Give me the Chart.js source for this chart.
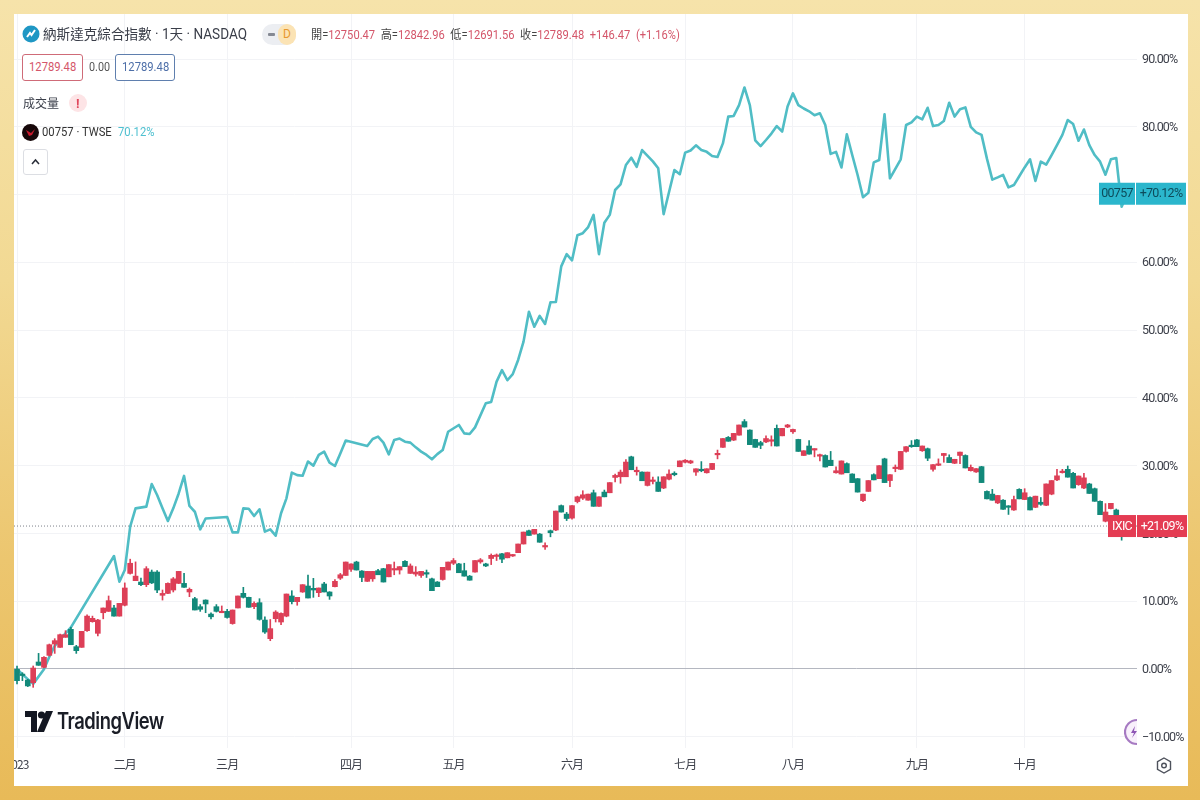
<!DOCTYPE html>
<html lang="zh-Hant">
<head>
<meta charset="utf-8">
<title>納斯達克綜合指數</title>
<script src="https://cdn.jsdelivr.net/npm/chart.js@4"></script>
<style>
html,body{margin:0;padding:0;width:1200px;height:800px;overflow:hidden}
html{background:#e8ba58}
#all{position:absolute;left:0;top:0;width:1200px;height:800px;filter:blur(.35px);background:linear-gradient(180deg,#f6e3aa 0%,#f2d993 35%,#ecc66f 70%,#e8ba58 100%);font-family:Roboto,"Noto Sans CJK TC","Noto Sans",sans-serif}
#panel{position:absolute;left:14px;top:14px;width:1174px;height:772px;background:#fff;overflow:hidden}
#c{position:absolute;left:0;top:0}
.t{position:absolute;white-space:nowrap;line-height:1;color:#2a2e39;transform-origin:left center}
.r{color:#d4566a}
.box{position:absolute;border-radius:3px;background:#fff;box-sizing:border-box}
svg{position:absolute}
</style>
</head>
<body>
<div id="all">
<div id="panel"><canvas id="c" width="1174" height="772"></canvas></div>

<div class="t" style="left:43px;top:27px;font-size:14px;color:#3a3e49;transform:scaleX(.97)">納斯達克綜合指數 · 1天 · NASDAQ</div>
<svg style="left:22px;top:25px" width="18" height="18" viewBox="0 0 18 18"><circle cx="9" cy="9" r="8.5" fill="#1f97c4"/><path d="M5 12 L8 8 L9.5 10 L13 5" stroke="#fff" stroke-width="2" fill="none"/></svg>
<div class="box" style="left:262px;top:24px;width:34px;height:21px;border-radius:11px;background:#eceef2"></div>
<div class="box" style="left:268px;top:33px;width:7px;height:3px;background:#858993;border-radius:1px"></div>
<div class="box" style="left:278px;top:24px;width:18px;height:21px;border-radius:10px;background:#fbe3b4"></div>
<div class="t" style="left:283px;top:28px;font-size:12px;color:#e8982e">D</div>
<div class="t" id="ohlc" style="left:311px;top:29px;font-size:12px;color:#444;transform:scaleX(.93)"><span>開=</span><span class="r">12750.47</span>&nbsp; <span>高=</span><span class="r">12842.96</span>&nbsp; <span>低=</span><span class="r">12691.56</span>&nbsp; <span>收=</span><span class="r">12789.48</span>&nbsp; <span class="r">+146.47</span>&nbsp; <span class="r">(+1.16%)</span></div>

<div class="box" style="left:22px;top:54px;width:61px;height:27px;border:1px solid #cf6b78"></div>
<div class="t r" style="left:29px;top:61px;font-size:12.5px;transform:scaleX(.9)">12789.48</div>
<div class="t" style="left:89px;top:61px;font-size:12px;color:#555;transform:scaleX(.9)">0.00</div>
<div class="box" style="left:115px;top:54px;width:60px;height:27px;border:1px solid #5f7fae"></div>
<div class="t" style="left:122px;top:61px;font-size:12.5px;color:#4e6fa8;transform:scaleX(.9)">12789.48</div>

<div class="t" style="left:23px;top:98px;font-size:12px;color:#3a3e49">成交量</div>
<div class="box" style="left:69px;top:94px;width:18px;height:18px;border-radius:9px;background:#fde4e6"></div>
<div class="t" style="left:76px;top:97px;font-size:13px;font-weight:700;color:#e0475c">!</div>

<svg style="left:22px;top:124px" width="17" height="17" viewBox="0 0 17 17"><circle cx="8.5" cy="8.5" r="8.5" fill="#17080a"/><path d="M4 6 L9 9 L13 5 L10 11 L7 12 Z" fill="#c8182c"/></svg>
<div class="t" style="left:42px;top:126px;font-size:12.5px;color:#333;transform:scaleX(.9)">00757 · TWSE</div>
<div class="t" style="left:118px;top:126px;font-size:12.5px;color:#4fc0d0;transform:scaleX(.9)">70.12%</div>
<div class="box" style="left:23px;top:149px;width:25px;height:26px;border:1px solid #dcdee3"></div>
<svg style="left:30px;top:158px" width="11" height="8" viewBox="0 0 11 8"><path d="M2 6 L5.5 2 L9 6" stroke="#2a2e39" stroke-width="1.5" fill="none"/></svg>

<svg style="left:25px;top:711px" width="28" height="21" viewBox="0 0 28 21"><path d="M0 0H12V21H6V6H0Z" fill="#131722"/><circle cx="16.5" cy="4" r="3.6" fill="#131722"/><path d="M21 0H28L19 21H12Z" fill="#131722"/></svg>
<div class="t" style="left:57px;top:710px;font-size:23px;font-weight:600;font-family:Inter,Roboto,sans-serif;color:#1a1d26;letter-spacing:-.6px;transform:scaleX(.8)" id="tv">TradingView</div>

<svg style="left:1124px;top:718px" width="14" height="28" viewBox="0 0 14 28"><path d="M13 2 A12 12 0 0 0 13 26" stroke="#a67ac2" stroke-width="2.2" fill="#f8f0fb"/><path d="M11 8 L7 15 H10 L8 20 L13 13 H10 Z" fill="#8e55b5"/></svg>
<svg style="left:1156px;top:757px" width="16" height="17" viewBox="0 0 16 17"><path d="M8 1 L14.5 4.7 V12.3 L8 16 L1.5 12.3 V4.7 Z" stroke="#4e525c" stroke-width="1.4" fill="none"/><circle cx="8" cy="8.5" r="2.3" stroke="#4e525c" stroke-width="1.4" fill="none"/></svg>
</div>

<script>
// --- Data (percent change since the first session) ---
const candleOpen = [-0.05,-0.75,-1.63,-2.02,1.03,0.24,2.01,3.68,3.19,4.67,5.85,3.29,3.19,5.65,6.98,5.26,8.3,8.5,9,7.8,9.4,14.1,13.03,12.83,12.44,14.3,14.3,10.87,11.15,11.65,12.63,12.63,11.36,10.37,9.19,10.17,8.1,9.19,8.3,8.5,6.7,9,11.16,10.57,9.19,9.78,7.22,4.47,7.42,6.93,7.8,10.77,9.93,11.36,12.24,11.9,11.26,12.54,11.36,12.14,13.4,13.8,14.7,15.78,14.45,12.93,13.3,14.5,14.8,13.6,14.6,14.6,15.88,14.1,14,13.8,14.2,13.3,12.83,13.2,14.6,15.6,15.5,14.5,13.7,14.3,15.8,15.5,16.3,16.6,17,16.4,16.67,17.16,18.44,20.4,19.9,19.9,18,20.4,20.5,24.1,22.85,22.26,24.7,25.2,24.9,26,24,26.1,26,28.26,28.36,28.36,31.3,29.1,29.05,27.08,27.67,27.58,26.7,28,28.86,29.84,30.5,30.4,29.05,29.44,28.95,29.44,31.6,32.7,34.17,33.77,34.5,36.5,35.25,33.87,33.4,33.5,33.6,35.5,34.4,35.7,35,33.87,31.5,32.9,32.3,31.4,31.5,30.8,28.95,28.76,30.3,28.77,28.08,24.84,26.2,28.67,28.08,31,27.8,29.56,29.46,32.1,33,33.8,32.2,32.5,29.46,30.05,31.5,31.2,30.35,31.5,31.5,29.26,29.07,29.85,26.2,25.8,24.5,24.9,24.05,23.46,26.5,25,25.3,23.85,24.6,24.15,25.8,27.9,28.97,29.46,28.87,27.2,26.7,27.3,26.6,24.74,21.8,23.66,23.46,21.8,20.3];
const candleHigh = [0.44,-0.55,-1.53,0.44,2.3,1.82,3.68,4.47,5.16,5.65,6.14,3.49,5.55,8,7.8,7.32,9,10.77,9.4,9.68,12.7,16.2,15.8,13.4,15.1,14.6,14.5,11.65,12.7,13.5,14.4,14.1,11.95,10.57,9.5,10.2,8.3,9.5,9.3,8.8,8.7,10.77,12.05,10.6,9.9,10.37,7.7,7.3,8.6,8.3,11.06,11.55,10.57,12.44,13.86,13.37,11.95,12.8,11.4,13.2,14.1,15.78,15.5,15.9,14.5,14.4,14.4,14.7,14.85,15.4,15.78,15.1,16,15.5,15.1,14.4,14.6,13.4,12.9,15,15.78,16.3,15.6,15.6,13.8,16,16.3,15.6,16.97,16.97,17.07,17.16,16.9,18.44,20.2,20.5,20.6,20,18.6,20.5,23.3,24.2,23.1,24.1,25.5,26.3,25.8,26.4,25.4,26.4,27.5,28.76,29.35,30.9,31.4,29.8,29.1,29.05,28.3,28.36,28.36,29.4,29.1,30.7,30.9,30.8,29.54,30.6,29.54,30.33,32.3,34,34.3,34.76,36,36.8,35.3,33.9,33.6,34.4,34.4,36,35.5,36.1,35.4,33.9,32.2,33.7,32.5,31.7,31.6,32.1,29.84,30.7,30.4,28.8,28.1,25.8,27.8,28.8,30,31.1,28.67,30.1,32.1,32.8,33.7,33.9,32.9,32.6,30.15,31,31.8,31.6,30.94,32,31.6,30.1,29.56,29.9,26.3,26.5,25.6,25,24.1,25.5,26.6,26.6,25.4,25.5,25.3,27.3,27.8,29.46,29.46,29.95,29,28.47,28.87,27.4,26.7,24.8,24.4,24.44,23.6,22,21.3];
const candleLow = [-2.22,-1.73,-2.6,-2.71,0.54,0.14,1.91,2.3,3.19,4.67,3.58,2.3,3.19,5.55,6.9,4.86,7.4,8.5,7.8,7.8,9.3,14,13.03,12.3,12.15,12.6,11.26,10.17,11.1,11.36,12.6,12.05,10.67,8.7,8.5,8.3,7.4,8.4,8.3,7.5,6.6,9,10.47,9.1,8.9,7.2,5.26,4.17,6.93,6.54,7.7,9.6,9.4,11.3,10.47,10.57,10.67,11.36,10.27,12.1,13.2,13.8,14.4,14.6,12.9,12.9,12.93,13.9,12.83,13.6,13.9,14,15.1,14.1,13.7,13.5,13.5,11.55,12.14,13.1,14.6,15.4,14.2,13.7,13.1,14.3,15.6,15.1,15.4,16,15.7,16.4,16.6,17.16,18.44,19.7,19.9,18.7,17.65,19.5,20.4,23.15,21.9,22.1,24.5,25,24.9,24,24,25.4,26,27.6,27.4,28.36,29.4,28.6,27.77,27,27.3,26.2,26.6,27.9,28.5,29.84,30.4,30.3,28.56,29.1,28.9,29.4,31,32.7,33.6,33.7,34.5,35.7,33.1,32.7,32.5,33.4,32.9,32.9,34.4,35.6,34.76,32.1,31.5,31.7,31.3,30.7,29.8,30,28.9,28.76,28.95,27.5,26.1,24.7,26.2,27.9,28.08,27.5,26.9,29.1,29.4,32,32.7,32.8,32.1,30.74,29.2,30,30.5,30.45,30.3,30.3,29.66,29.2,29,27.5,25.1,24.9,24.4,23.56,22.8,23.4,25.1,25,23.46,23.8,24.15,24.1,25.7,27.8,28.9,28.3,26.7,27.1,26.6,25.9,24.74,22.77,21.7,23.6,22,19,20];
const candleClose = [-1.73,-0.95,-2.5,0.14,0.54,1.72,3.58,4.18,5.06,5.06,3.58,2.7,5.55,7.8,7.47,7.22,9,10.08,7.8,9.68,11.95,15.6,13.7,12.44,14.8,12.7,11.65,11.15,12.63,13.3,14.4,12.05,11.75,8.7,8.8,9.59,7.7,8.5,8.5,7.6,8.7,10.77,10.57,9.1,9.68,7.32,5.45,5.95,8.4,8.2,11.06,9.93,10.57,12.44,10.47,11.65,11.95,11.36,10.77,12.93,13.9,15.78,15.5,14.6,13.5,14.4,14.4,13.9,12.83,15.4,14.8,15.1,15.1,15.2,14.3,14.4,14,11.55,12.14,15,15.78,16,14.2,13.7,13.1,16,16.1,15.2,16.77,16.77,16.2,17.16,16.87,18.44,20.2,19.7,20.6,18.7,18.2,20.1,23.3,23.15,22.2,24.1,25.4,25.7,25.8,24,25.4,25.4,27.5,28.56,29.05,30.53,29.4,29.3,27.77,29.05,27.77,26.2,28.36,28.76,28.66,30.7,30.8,30.7,29.54,29.25,29.54,30.33,31.8,34,33.6,34.76,36,35.7,33.1,32.7,33,34,33.77,32.9,35.5,36,35.35,32.1,32.2,31.7,32.4,31.6,29.8,30,29.25,30.7,28.95,27.5,26.1,25.8,27.8,27.9,30,27.5,28.67,29.66,32.1,32.8,32.8,32.8,32.9,31.1,30.15,30.25,31.8,30.45,30.94,32,29.66,29.75,29.56,27.5,25.1,24.9,25.6,23.56,23.85,25,25.1,26,23.46,25.5,24.3,27.3,27.8,28.5,29.16,28.3,26.7,28.47,28.2,25.9,24.74,22.77,23.16,24.44,22,19.8,21.09];
const lineSession = [0,1,3,5,6,7,9,10,18,19,20,21,22,24,25,26,27,28,29,30,31,32,33,34,35,39,40,41,42,43,44,45,46,47,48,49,50,51,52,53,54,55,56,57,58,59,60,61,65,66,67,68,69,70,71,72,73,74,75,76,77,78,79,80,82,83,84,85,87,88,89,90,91,92,93,94,95,96,97,98,99,100,101,102,103,104,105,106,107,108,109,110,111,112,113,114,115,116,118,119,120,122,123,124,125,126,127,128,129,130,131,132,133,134,135,136,137,138,139,140,141,142,143,144,145,146,147,148,149,150,151,152,153,154,155,156,157,158,159,160,161,162,163,164,165,166,167,168,169,170,171,172,173,174,175,176,177,178,179,180,181,182,183,184,185,186,187,188,189,190,191,192,193,194,195,196,197,198,199,200,201,202,203,204,205,206];
const lineValues = [0,-0.8,-2.2,-0.05,1.8,3.4,5.26,6.14,16.67,12.88,14.6,21,23.7,23.95,27.3,25.67,23.7,21.84,23.7,25.9,28.48,24.05,23.2,20.6,22.2,22.43,20.16,20.16,23.7,23.65,22.57,23.56,20.26,20.6,19.67,22.97,25.18,28.97,28.6,28.5,30.6,30,31.58,32.07,30.44,29.95,31.8,33.7,32.9,33.94,34.28,33.4,31.67,33.79,34,33.54,33.4,32.7,32.07,31.58,30.94,31.7,32.3,35,36,34.76,34.67,35.65,39.2,39.4,42.4,44.1,42.6,43.5,45.6,48.3,52.7,50.5,52.1,50.9,54.1,54.15,59.4,61.2,60.3,64,64.3,65.2,67,61.2,65.85,67,70.67,71.5,74.36,75.44,74.1,76.57,74.9,73.87,67.1,73.62,73,76.18,76.5,77.26,76.57,76.3,75.7,75.54,77.55,81.5,81.6,83.2,85.8,83.2,78,77.16,78.05,79,80.1,79.3,83,84.93,83.2,82.7,82.28,81.7,82,80.26,76,76.3,74,78.9,75.83,72.88,69.6,70.27,74.75,75.1,81.85,72.4,73.8,75.2,80.26,80.65,81.5,81.1,82.8,80.1,80.26,80.85,83.55,81.5,82.6,82.86,80,79.17,78.8,75.3,72.2,72.53,72.9,71.06,71.4,72.7,74,75.2,72,74.85,74.4,75.83,77.3,78.8,81,80.4,77.94,79.6,77.3,75.83,74.85,72.93,75.2,75.4,68.2,70.12];
const monthSessions = [0,20,39,62,81,103,124,144,167,187];
const monthLabels = ['2023','二月','三月','四月','五月','六月','七月','八月','九月','十月'];
const percentTicks = [-10,0,10,20,30,40,50,60,70,80,90];
const lastIndex = 21.09;
const lastEtf = 70.12;

const RED='#dd3f57', GREEN='#12897a', TEAL='#50bdc5';
const FONT="Roboto,sans-serif";
const XMIN=-0.56, XMAX=207.85, YMIN=-11.66, YMAX=96.64;
const up=candleOpen.map((o,i)=>candleClose[i]>=o);
const colors=up.map(u=>u?RED:GREEN);

const tagPlugin={id:'tags',
 beforeDraw(ch){ch.ctx.letterSpacing='-0.9px';},
 afterDraw(ch){
  const {ctx,scales:{y}}=ch;
  const tag=(val,x0,w0,w1,bg,fg,name,txt)=>{
    const py=y.getPixelForValue(val), h=22;
    ctx.save();
    ctx.letterSpacing='-0.7px';
    ctx.fillStyle=bg;
    ctx.fillRect(x0,py-h/2,w0,h);
    ctx.fillRect(x0+w0+1,py-h/2,w1,h);
    ctx.fillStyle=fg;ctx.font="12.5px "+FONT;ctx.textBaseline='middle';ctx.textAlign='center';
    ctx.fillText(name,x0+w0/2,py+.5);
    ctx.fillText(txt,x0+w0+1+w1/2,py+.5);
    ctx.restore();
  };
  tag(lastEtf,1085,36,50,'#2bb6cc','#0d4c5c','00757','+70.12%');
  tag(lastIndex,1094,28,50,'#e43c53','#ffffff','IXIC','+21.09%');
  ctx.letterSpacing='0px';
}};

new Chart(document.getElementById('c'),{
  data:{datasets:[
    {type:'bar',order:1,grouped:false,barThickness:5,minBarLength:1.5,
     data:candleOpen.map((o,i)=>({x:i,y:[o,candleClose[i]]})),backgroundColor:colors,borderWidth:0},
    {type:'bar',order:1,grouped:false,barThickness:1,
     data:candleHigh.map((h,i)=>({x:i,y:[candleLow[i],h]})),backgroundColor:colors,borderWidth:0},
    {type:'line',order:2,data:lineSession.map((s,i)=>({x:s,y:lineValues[i]})),borderColor:TEAL,borderWidth:2.6,pointRadius:0,tension:0,borderJoinStyle:'round'},
    {type:'line',order:3,data:[{x:XMIN,y:lastIndex},{x:XMAX,y:lastIndex}],borderColor:'#7d808a',borderWidth:1,borderDash:[1,2],pointRadius:0}
  ]},
  options:{
    responsive:false,animation:false,events:[],
    layout:{padding:0},
    plugins:{legend:{display:false},tooltip:{enabled:false},title:{display:false}},
    scales:{
      x:{type:'linear',position:'bottom',min:XMIN,max:XMAX,offset:false,
        border:{display:false},
        grid:{color:'#f2f3f6',drawTicks:false,offset:false},
        afterBuildTicks:s=>{s.ticks=monthSessions.map(v=>({value:v}));},
        afterFit:s=>{s.height=38;s.paddingLeft=0;s.paddingRight=0;},
        ticks:{autoSkip:false,maxRotation:0,padding:9,color:'#3f424c',
          font:{family:"'Noto Sans CJK TC',sans-serif",size:12},
          callback:v=>monthLabels[monthSessions.indexOf(v)]}},
      y:{type:'linear',position:'right',min:YMIN,max:YMAX,
        border:{display:false},
        grid:{drawTicks:false,color:c=>c.tick&&c.tick.value===0?'#b4b7c0':'#f2f3f6'},
        afterBuildTicks:s=>{s.ticks=percentTicks.map(v=>({value:v}));},
        afterFit:s=>{s.width=51;s.paddingTop=0;s.paddingBottom=0;},
        ticks:{autoSkip:false,padding:5,crossAlign:'near',labelOffset:1,color:'#3f424c',
          font:{family:FONT,size:12.5},
          callback:v=>(v<0?'−':'')+Math.abs(v).toFixed(2)+'%'}}
    }
  },
  plugins:[tagPlugin]
});
</script>
</body>
</html>
